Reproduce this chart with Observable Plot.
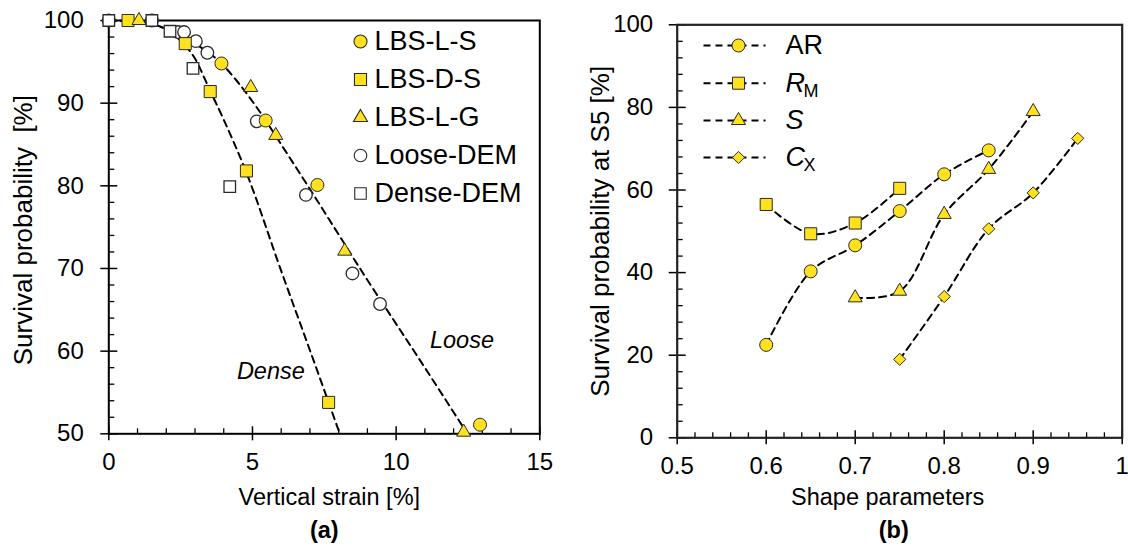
<!DOCTYPE html>
<html><head><meta charset="utf-8">
<script src="https://cdn.jsdelivr.net/npm/d3@7"></script>
<script src="https://cdn.jsdelivr.net/npm/@observablehq/plot@0.6"></script>
<style>
body{margin:0;background:#fff;font-family:"Liberation Sans",Arial,sans-serif}
#wrap{position:relative;width:1128px;height:549px;overflow:hidden}
#a,#b{position:absolute;top:0;width:564px;height:549px}
#a{left:0}#b{left:564px}
</style></head><body>
<div id="wrap"><div id="a"></div><div id="b"></div></div>
<script>
// ---------- Panel (a) data ----------
const lbsLS_strain = [3.92, 5.46, 7.26, 12.92];
const lbsLS_surv   = [94.8, 87.9, 80.1, 51.1];
const lbsDS_strain = [0.67, 2.66, 3.53, 4.79, 7.65];
const lbsDS_surv   = [100, 97.2, 91.4, 81.8, 53.8];
const lbsLG_strain = [1.05, 4.94, 5.81, 8.21, 12.35];
const lbsLG_surv   = [100, 91.9, 86.1, 72.1, 50.2];
const looseDEM_strain = [0, 1.5, 2.41, 2.62, 3.03, 3.43, 5.15, 6.86, 8.48, 9.44];
const looseDEM_surv   = [100, 100, 98.6, 98.6, 97.5, 96.1, 87.8, 78.9, 69.4, 65.7];
const denseDEM_strain = [0, 1.5, 2.13, 2.93, 4.21];
const denseDEM_surv   = [100, 100, 98.7, 94.2, 79.9];
// fitted dashed curves
const denseFit_strain = [0, 1, 1.5, 2, 2.6, 3, 3.5, 4, 4.8, 6, 7, 8.04];
const denseFit_surv   = [100, 99.9, 99.6, 98.9, 97.2, 95.4, 91.7, 88, 81.5, 69.7, 60.1, 50];
const looseFit_strain = [0, 1, 2, 3, 3.92, 4.5, 5.46, 6, 7, 8, 9, 10, 11, 12.48];
const looseFit_surv   = [100, 99.85, 99.0, 97.2, 94.8, 92.5, 87.9, 85, 79.6, 74.1, 68.6, 63.3, 58, 50];
const seriesA = ["LBS-L-S", "LBS-D-S", "LBS-L-G", "Loose-DEM", "Dense-DEM"];
const xTicksA = [0, 5, 10, 15];
const yTicksA = [50, 60, 70, 80, 90, 100];
const annotA = ["Dense", "Loose"];
const annotA_x = [5.64, 12.29];
const annotA_y = [57.6, 61.3];

// ---------- Panel (b) data ----------
const AR_shape = [0.6, 0.65, 0.7, 0.75, 0.8, 0.85];
const AR_surv  = [22.5, 40.3, 46.6, 54.9, 63.8, 69.6];
const RM_shape = [0.6, 0.65, 0.7, 0.75];
const RM_surv  = [56.5, 49.4, 52.0, 60.4];
const S_shape  = [0.7, 0.75, 0.8, 0.85, 0.9];
const S_surv   = [33.9, 35.5, 54.1, 65.0, 79.0];
const CX_shape = [0.75, 0.8, 0.85, 0.9, 0.95];
const CX_surv  = [19.0, 34.2, 50.6, 59.3, 72.5];
const xTicksB = [0.5, 0.6, 0.7, 0.8, 0.9, 1];
const yTicksB = [0, 20, 40, 60, 80, 100];

// ---------- styles ----------
const YEL = "#ffe11e";
const EDGE = "#2a2a2a";
const FONT = "Liberation Sans, Arial, sans-serif";
const TICKFS = 24, TITLEFS = 23.5, VTITLEFS = 26, LEGFS = 27;
const zip = (xs, ys) => xs.map((x, i) => ({x, y: ys[i]}));
const range = (a, b, s) => d3.range(Math.round((b - a) / s) + 1).map(i => +(a + i * s).toFixed(4));

// ---------- Panel (a) ----------
{
  const W = 564, H = 549, mL = 108.3, mR = 24.7, mT = 20, mB = 115.7;
  const pw = W - mL - mR, ph = H - mT - mB;
  const xMinor = range(0, 15, 1).filter(v => !xTicksA.includes(v));
  const yMinor = range(50, 100, 2).filter(v => !yTicksA.includes(v));
  const xInv = px => (px - mL) / pw * 15;
  const yInv = py => 100 - (py - mT) / ph * 50;
  const legRows = [41, 79, 117, 155, 193];
  const legSym = ["circle", "square", "triangle", "circle", "square"];
  const legFill = [YEL, YEL, YEL, "white", "white"];
  const legR = [6.5, 6.8, 5.2, 6.3, 6.5];
  const legend = seriesA.map((name, i) => ({name, x: xInv(360), tx: xInv(374), y: yInv(legRows[i]), symbol: legSym[i], fill: legFill[i], r: legR[i]}));

  const chart = Plot.plot({
    width: W, height: H, marginLeft: mL, marginRight: mR, marginTop: mT, marginBottom: mB,
    x: {domain: [0, 15], axis: null}, y: {domain: [50, 100], axis: null}, r: {type: "identity"},
    style: {fontFamily: FONT, fontSize: TICKFS + "px", color: "#000", background: "white", overflow: "visible"},
    marks: [
      Plot.text(xTicksA, {x: d => d, text: d => String(d), frameAnchor: "bottom", lineAnchor: "middle", dy: 29, fontSize: TICKFS, fill: "#000"}),
      Plot.text(yTicksA, {y: d => d, text: d => String(d), frameAnchor: "left", textAnchor: "end", dx: -25, fontSize: TICKFS, fill: "#000"}),
      Plot.tickX(xTicksA, {x: d => d, insetTop: ph - 7, insetBottom: -7, stroke: "#000", strokeWidth: 1.5}),
      Plot.tickX(xMinor, {x: d => d, insetTop: ph - 5, insetBottom: 0, stroke: "#000", strokeWidth: 1.3}),
      Plot.tickY(yTicksA, {y: d => d, insetLeft: -8, insetRight: pw - 9, stroke: "#000", strokeWidth: 1.5}),
      Plot.tickY(yMinor, {y: d => d, insetLeft: 0, insetRight: pw - 6, stroke: "#000", strokeWidth: 1.3}),
      Plot.frame({stroke: "#000", strokeWidth: 2}),
      Plot.line(zip(denseFit_strain, denseFit_surv), {x: "x", y: "y", curve: "monotone-x", stroke: "#000", strokeWidth: 2, strokeDasharray: "7,5"}),
      Plot.line(zip(looseFit_strain, looseFit_surv), {x: "x", y: "y", curve: "monotone-x", stroke: "#000", strokeWidth: 2, strokeDasharray: "7,5"}),
      Plot.dot(zip(looseDEM_strain, looseDEM_surv), {x: "x", y: "y", symbol: "circle", r: 6.3, fill: "white", stroke: EDGE, strokeWidth: 1.3}),
      Plot.dot(zip(denseDEM_strain, denseDEM_surv), {x: "x", y: "y", symbol: "square", r: 6.5, fill: "white", stroke: EDGE, strokeWidth: 1.3}),
      Plot.dot(zip(lbsLS_strain, lbsLS_surv), {x: "x", y: "y", symbol: "circle", r: 6.5, fill: YEL, stroke: EDGE, strokeWidth: 1}),
      Plot.dot(zip(lbsDS_strain, lbsDS_surv), {x: "x", y: "y", symbol: "square", r: 6.8, fill: YEL, stroke: EDGE, strokeWidth: 1}),
      Plot.dot(zip(lbsLG_strain, lbsLG_surv), {x: "x", y: "y", symbol: "triangle", r: 5.2, fill: YEL, stroke: EDGE, strokeWidth: 1}),
      Plot.text(annotA, {x: (d, i) => annotA_x[i], y: (d, i) => annotA_y[i], text: d => d, fontStyle: "italic", fontSize: TITLEFS, fill: "#000"}),
      // legend
      Plot.dot(legend, {x: "x", y: "y", symbol: "symbol", r: "r", fill: "fill", stroke: EDGE, strokeWidth: 1.1}),
      Plot.text(legend, {x: "tx", y: "y", text: "name", textAnchor: "start", fontSize: LEGFS, fill: "#000"}),
      // axis titles
      Plot.text(["Vertical strain [%]"], {frameAnchor: "bottom", lineAnchor: "middle", dy: 64, dx: 5, fontSize: TITLEFS, fill: "#000"}),
      Plot.text(["Survival probability\u00a0 [%]"], {frameAnchor: "left", textAnchor: "middle", lineAnchor: "middle", rotate: -90, dx: -85, dy: 3, fontSize: VTITLEFS, fill: "#000"}),
      Plot.text(["(a)"], {frameAnchor: "bottom", lineAnchor: "middle", dy: 97, fontSize: TITLEFS, fontWeight: "bold", fill: "#000"})
    ]
  });
  document.getElementById("a").append(chart);
}

// ---------- Panel (b) ----------
{
  const W = 564, H = 549, mL = 112.7, mR = 6.3, mT = 24.3, mB = 111.7;
  const pw = W - mL - mR, ph = H - mT - mB;
  const xMinor = range(0.5, 1, 0.02).filter(v => !xTicksB.some(t => Math.abs(t - v) < 1e-6));
  const yMinor = range(0, 100, 4).filter(v => !yTicksB.includes(v));
  const xInv = px => 0.5 + (px - mL) / pw * 0.5;
  const yInv = py => 100 - (py - mT) / ph * 100;
  const names = ["AR", "R", "S", "C"];
  const subs = ["", "M", "", "X"];
  const italic = [false, true, true, true];
  const syms = ["circle", "square", "triangle", "diamond2"];
  const rs = [6.5, 6.8, 5.2, 5.5];
  const rows = [45, 82.7, 120, 157];
  const leg = names.map((n, i) => ({n, sub: subs[i], it: italic[i], symbol: syms[i], r: rs[i],
    x1: xInv(703 - 564), x2: xInv(765 - 564), xs: xInv(738 - 564), tx: xInv(785 - 564), sx: xInv(803 - 564), y: yInv(rows[i])}));

  const series = [
    {d: zip(AR_shape, AR_surv), s: "circle", r: 6.5},
    {d: zip(RM_shape, RM_surv), s: "square", r: 6.8},
    {d: zip(S_shape, S_surv), s: "triangle", r: 5.2},
    {d: zip(CX_shape, CX_surv), s: "diamond2", r: 5.5}
  ];
  const chart = Plot.plot({
    width: W, height: H, marginLeft: mL, marginRight: mR, marginTop: mT, marginBottom: mB,
    x: {domain: [0.5, 1], axis: null}, y: {domain: [0, 100], axis: null}, r: {type: "identity"},
    style: {fontFamily: FONT, fontSize: TICKFS + "px", color: "#000", background: "white", overflow: "visible"},
    marks: [
      Plot.text(xTicksB, {x: d => d, text: d => String(d), frameAnchor: "bottom", lineAnchor: "middle", dy: 29, fontSize: TICKFS, fill: "#000"}),
      Plot.text(yTicksB, {y: d => d, text: d => String(d), frameAnchor: "left", textAnchor: "end", dx: -24, fontSize: TICKFS, fill: "#000"}),
      Plot.tickX(xTicksB, {x: d => d, insetTop: ph - 7, insetBottom: -7, stroke: "#000", strokeWidth: 1.5}),
      Plot.tickX(xMinor, {x: d => d, insetTop: ph - 5, insetBottom: 0, stroke: "#000", strokeWidth: 1.3}),
      Plot.tickY(yTicksB, {y: d => d, insetLeft: -8, insetRight: pw - 9, stroke: "#000", strokeWidth: 1.5}),
      Plot.tickY(yMinor, {y: d => d, insetLeft: 0, insetRight: pw - 6, stroke: "#000", strokeWidth: 1.3}),
      Plot.frame({stroke: "#222", strokeWidth: 2.2}),
      ...series.map(s => Plot.line(s.d, {x: "x", y: "y", curve: "catmull-rom", stroke: "#000", strokeWidth: 2, strokeDasharray: "7,5"})),
      ...series.map(s => Plot.dot(s.d, {x: "x", y: "y", symbol: s.s, r: s.r, fill: YEL, stroke: EDGE, strokeWidth: 1})),
      // legend
      Plot.link(leg, {x1: "x1", x2: "x2", y1: "y", y2: "y", stroke: "#000", strokeWidth: 2, strokeDasharray: "7,5"}),
      Plot.dot(leg, {x: "xs", y: "y", symbol: "symbol", r: "r", fill: YEL, stroke: EDGE, strokeWidth: 1}),
      Plot.text(leg.filter(d => !d.it), {x: "tx", y: "y", text: "n", textAnchor: "start", fontSize: LEGFS, fill: "#000"}),
      Plot.text(leg.filter(d => d.it), {x: "tx", y: "y", text: "n", textAnchor: "start", fontSize: LEGFS, fontStyle: "italic", fill: "#000"}),
      Plot.text(leg.filter(d => d.sub), {x: "sx", y: "y", text: "sub", textAnchor: "start", fontSize: 18, dy: 8, fill: "#000"}),
      // axis titles
      Plot.text(["Shape parameters"], {frameAnchor: "bottom", lineAnchor: "middle", dy: 60, dx: -12, fontSize: TITLEFS, fill: "#000"}),
      Plot.text(["Survival probability at S5 [%]"], {frameAnchor: "left", textAnchor: "middle", lineAnchor: "middle", rotate: -90, dx: -77, dy: 0, fontSize: VTITLEFS, fill: "#000"}),
      Plot.text(["(b)"], {frameAnchor: "bottom", lineAnchor: "middle", dy: 93, dx: -6, fontSize: TITLEFS, fontWeight: "bold", fill: "#000"})
    ]
  });
  document.getElementById("b").append(chart);
}
</script>
</body></html>
